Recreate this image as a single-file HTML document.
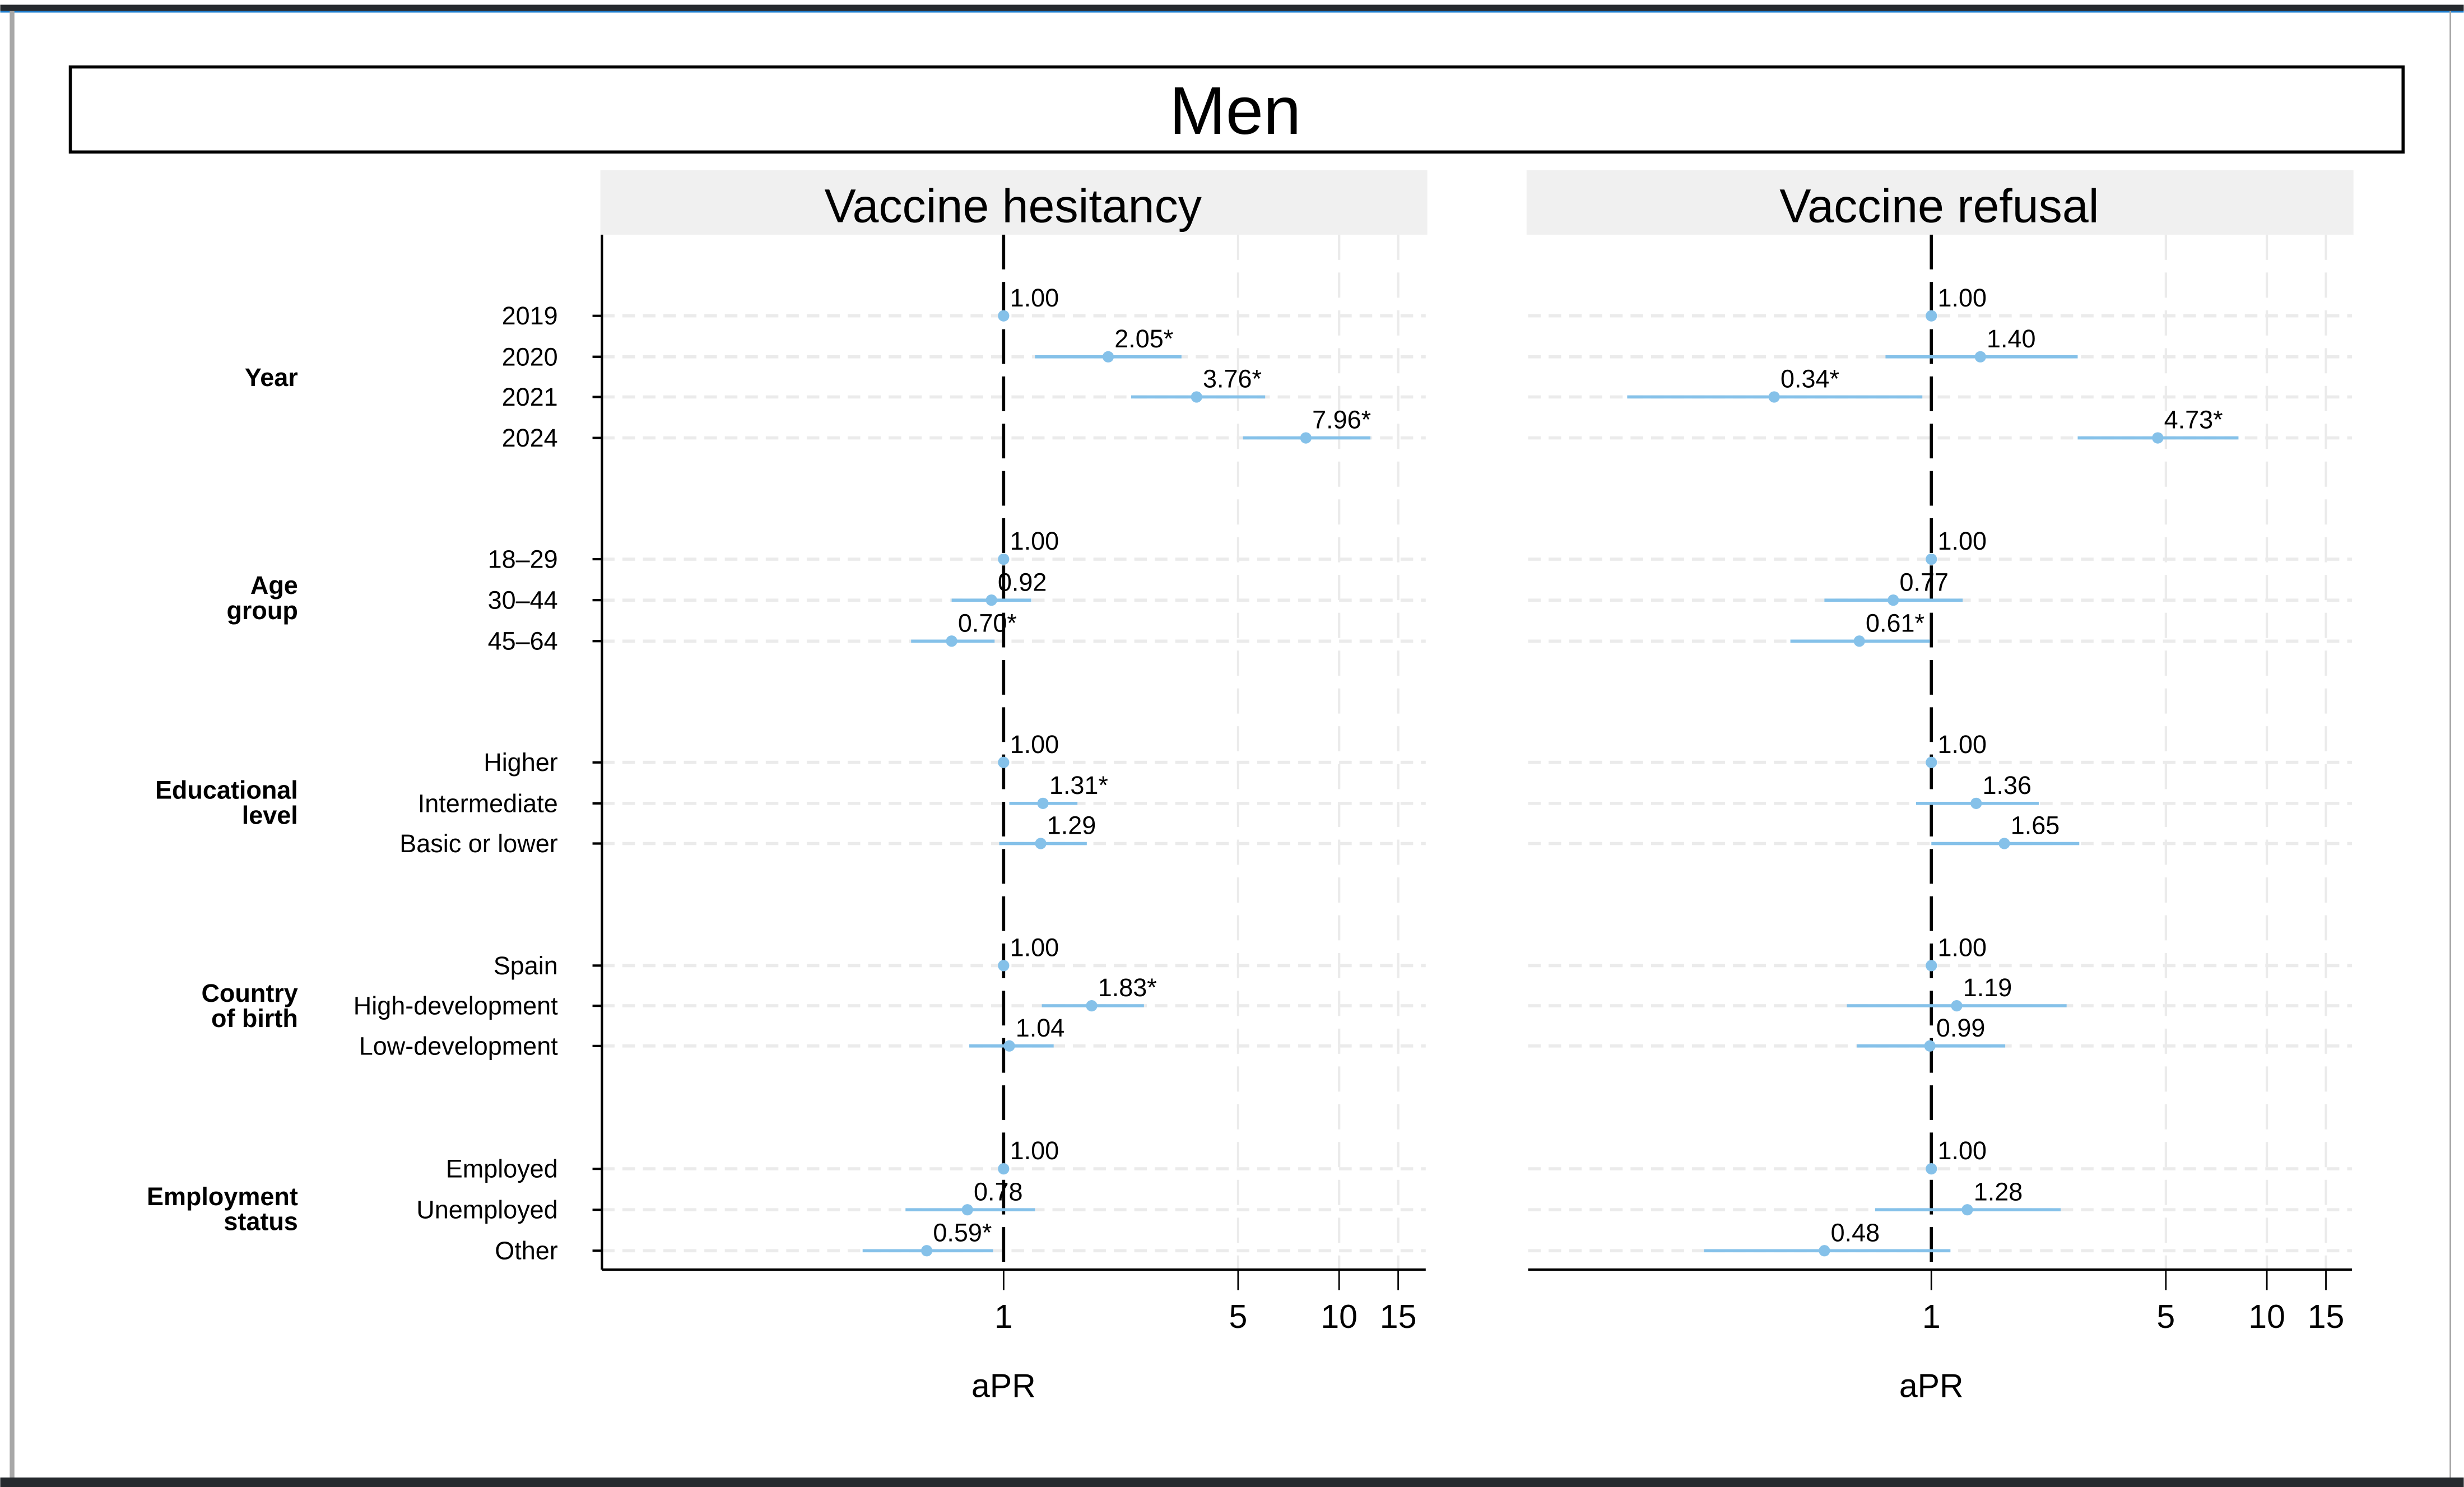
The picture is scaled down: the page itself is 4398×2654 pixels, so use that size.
<!DOCTYPE html>
<html><head><meta charset="utf-8"><style>
html,body{margin:0;padding:0;background:#fff;}
svg{display:block;}
text{font-family:"Liberation Sans",Arial,sans-serif;}
</style></head><body>
<svg id="chart" width="4398" height="2654" viewBox="0 0 1564 944" xmlns="http://www.w3.org/2000/svg">
<rect x="0" y="0" width="1564" height="944" fill="#fff"/>
<rect x="0" y="3" width="1564" height="4" fill="#262a2e"/>
<rect x="0" y="7" width="1564" height="1" fill="#1e7fd0"/>
<rect x="6" y="7" width="3" height="932" fill="#a8a8a8"/>
<rect x="1555" y="7" width="1" height="932" fill="#a8a8a8"/>
<rect x="0" y="938" width="1564" height="6" fill="#262a2e"/>
<rect x="44.5" y="42.5" width="1481" height="54" fill="#fff" stroke="#000" stroke-width="2"/>
<text x="784" y="85" font-size="43" text-anchor="middle">Men</text>
<g id="panels"></g>
</svg>
<script>
const categories = ["2019","2020","2021","2024","18–29","30–44","45–64","Higher","Intermediate","Basic or lower","Spain","High-development","Low-development","Employed","Unemployed","Other"];
const rowY = [200.5,226.5,252,278,355,381,407,484,510,535.5,613,638.5,664,742,768,794];
const groups = [["Year"],["Age","group"],["Educational","level"],["Country","of birth"],["Employment","status"]];
const groupY = [240,380,510,639,768];
const hesPoint = [1.00,2.05,3.76,7.96,1.00,0.92,0.70,1.00,1.31,1.29,1.00,1.83,1.04,1.00,0.78,0.59];
const hesLow   = [1,1.24,2.40,5.17,1,0.70,0.53,1,1.04,0.97,1,1.30,0.79,1,0.51,0.38];
const hesHigh  = [1,3.39,6.02,12.4,1,1.21,0.94,1,1.66,1.77,1,2.62,1.41,1,1.24,0.93];
const hesLabels = ["1.00","2.05*","3.76*","7.96*","1.00","0.92","0.70*","1.00","1.31*","1.29","1.00","1.83*","1.04","1.00","0.78","0.59*"];
const refPoint = [1.00,1.40,0.34,4.73,1.00,0.77,0.61,1.00,1.36,1.65,1.00,1.19,0.99,1.00,1.28,0.48];
const refLow   = [1,0.73,0.124,2.73,1,0.48,0.38,1,0.90,1.0,1,0.56,0.60,1,0.68,0.21];
const refHigh  = [1,2.73,0.94,8.23,1,1.24,0.99,1,2.09,2.76,1,2.53,1.66,1,2.43,1.14];
const refLabels = ["1.00","1.40","0.34*","4.73*","1.00","0.77","0.61*","1.00","1.36","1.65","1.00","1.19","0.99","1.00","1.28","0.48"];
const xTicks = [1,5,10,15];
const xTickLabels = ["1","5","10","15"];

const NS="http://www.w3.org/2000/svg";
const root=document.getElementById('panels');
function mk(tag,attrs,parent,txt){const e=document.createElementNS(NS,tag);for(const k in attrs)e.setAttribute(k,attrs[k]);if(txt!==undefined)e.textContent=txt;(parent||root).appendChild(e);return e;}
const decade=213;

categories.forEach((c,i)=>{
  const t=mk('text',{x:354,y:rowY[i]+5.5,'font-size':16,'text-anchor':'end'},root,c);
  
  
  const tk=mk('line',{x1:376,x2:382,y1:rowY[i],y2:rowY[i],stroke:'#000','stroke-width':1.5});
  
  
});
groups.forEach((g,i)=>{
  g.forEach((ln,j)=>{
    const t=mk('text',{x:189,y:groupY[i]+5-(g.length-1)*8+j*16,'font-size':16,'font-weight':'bold','text-anchor':'end'},root,ln);
    
    
  });
});

function panel(name,title,x0,xRef,pts,lo,hi,labs){
  const g=mk('g',{});
  
  
  const X=v=>xRef+Math.log10(v)*decade;
  const s=mk('rect',{x:x0-1,y:108,width:525,height:41,fill:'#f0f0f0'},g);
  
  
  const st=mk('text',{x:x0+261,y:141,'font-size':30,'text-anchor':'middle'},g,title);
  
  
  xTicks.slice(1).forEach(v=>{
    const l=mk('line',{x1:X(v),x2:X(v),y1:149,y2:806,stroke:'#ebebeb','stroke-width':1.5,'stroke-dasharray':'16,8'},g);
    
    
  });
  rowY.forEach(y=>{
    const l=mk('line',{x1:x0,x2:x0+523,y1:y,y2:y,stroke:'#ebebeb','stroke-width':2,'stroke-dasharray':'8,5'},g);
    
    
  });
  const ref=mk('line',{x1:X(1),x2:X(1),y1:149,y2:806,stroke:'#000','stroke-width':2,'stroke-dasharray':'22,8'},g);
  
  
  pts.forEach((p,i)=>{
    const l=mk('line',{x1:X(lo[i]),x2:X(hi[i]),y1:rowY[i],y2:rowY[i],stroke:'#85c1e9','stroke-width':2},g);
    
    
    const c=mk('circle',{cx:X(p),cy:rowY[i],r:3.6,fill:'#85c1e9'},g);
    
    
    const t=mk('text',{x:X(p)+4,y:rowY[i]-6,'font-size':16},g,labs[i]);
    
    
  });
  const ax=mk('line',{x1:x0,x2:x0+523,y1:806,y2:806,stroke:'#000','stroke-width':1.5},g);
  
  
  xTicks.forEach((v,i)=>{
    const tk=mk('line',{x1:X(v),x2:X(v),y1:806,y2:819,stroke:'#000','stroke-width':1},g);
    
    
    const t=mk('text',{x:X(v),y:843,'font-size':21,'text-anchor':'middle'},g,xTickLabels[i]);
    
    
  });
  const xt=mk('text',{x:X(1),y:887,'font-size':21,'text-anchor':'middle'},g,'aPR');
  
  
}
panel('hesitancy','Vaccine hesitancy',382,637,hesPoint,hesLow,hesHigh,hesLabels);
panel('refusal','Vaccine refusal',970,1226,refPoint,refLow,refHigh,refLabels);
const ya=mk('line',{x1:382,x2:382,y1:149,y2:806,stroke:'#000','stroke-width':1.5});


</script>
</body></html>
